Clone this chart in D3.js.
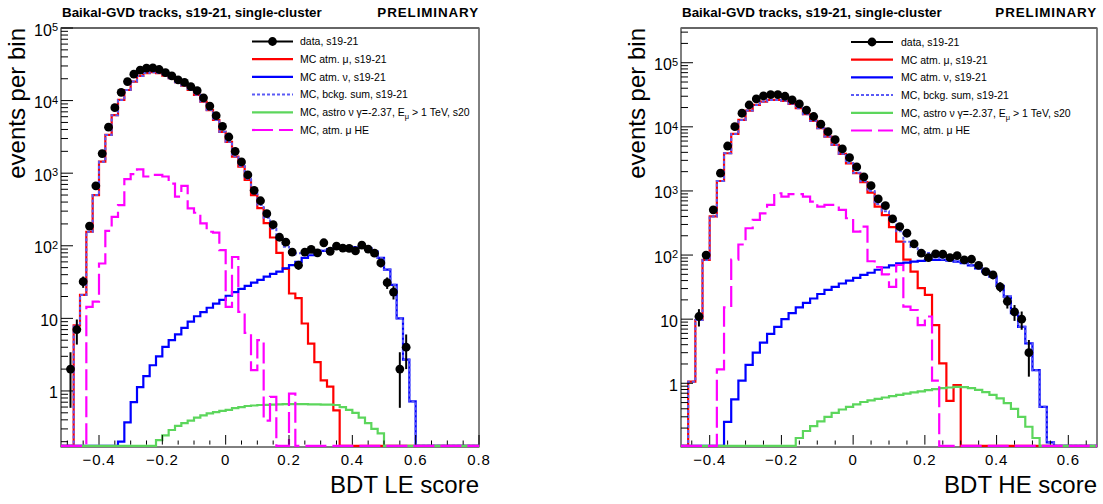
<!DOCTYPE html>
<html><head><meta charset="utf-8">
<script src="https://cdn.jsdelivr.net/npm/d3@7"></script>
<style>
body{margin:0;background:#fff}
svg{display:block}
text{font-family:"Liberation Sans",Arial,Helvetica,sans-serif;fill:#000}
</style>
</head><body>
<svg id="c" width="1103" height="504"></svg>
<script>
// ---------------- LE panel (66 bins of 0.02 from -0.52) ----------------
const leBinStart = -0.52, leBinWidth = 0.02;
const dataLE = [0,2,7,32,187,670,1860,4300,8000,13000,
 18300,23100,26300,28000,28200,26800,24300,21900,19300,17800,
 15600,13700,10900,8400,6200,4400,3150,2000,1430,945,
 580,417,277,195,131,112,82,54,82,89,
 80,110,84,99,93,92,85,102,90,79,
 58,31,23,2,4,0,0,0,0,0,
 0,0,0,0,0,0];
const muLE = [0,0,8,21,156,500,1440,3360,6300,10200,
 14000,18300,21900,23900,24600,23900,22100,20300,17900,16100,
 14000,12000,9700,7400,5400,3700,2700,1690,1230,810,
 500,330,205,130,80,48,22,19,8.5,4.5,
 2.5,1.4,1.15,0.54,0,0,0,0,0,0,
 0,0,0,0,0,0,0,0,0,0,
 0,0,0,0,0,0];
const nuLE = [0,0,0,0,0,0,0,0,0,0.2,
 0.37,0.70,1.13,1.6,2.26,3.0,4.05,5.0,6.0,7.4,
 9.0,10.7,12.2,14,16,18,20.5,23,25.5,28,
 31,34,37.5,41,44,49,54,60,68,74,
 80,85,90,93,95,96,96,95,92,83,
 68,47,29,10,2.7,0.72,0,0,0,0,
 0,0,0,0,0,0];
const sumLE = [0,0,8,21,156,500,1440,3360,6300,10200,
 14000,18300,21900,23900,24600,23900,22100,20300,17910,16110,
 14010,12010,9710,7410,5420,3720,2720,1710,1260,838,
 531,364,243,171,124,97,76,79,76.5,78.5,
 82.5,86.4,91.2,93.5,95,96,96,95,92,83,
 68,47,29,10,2.7,0.72,0,0,0,0,
 0,0,0,0,0,0];
const astroLE = [0,0,0,0,0,0,0,0,0,0,
 0,0,0,0,0,0.21,0.245,0.29,0.33,0.36,
 0.39,0.43,0.46,0.49,0.51,0.53,0.55,0.58,0.60,0.62,
 0.63,0.64,0.645,0.65,0.655,0.66,0.66,0.66,0.66,0.655,
 0.655,0.65,0.65,0.64,0.60,0.55,0.50,0.43,0.36,0.30,
 0.26,0,0,0,0,0,0,0,0,0,
 0,0,0,0,0,0];
const muHiLE = [0,0,0,0,14.4,17,57,160,250,362,
 830,970,1130,900,945,945,900,720,474,670,
 328,285,204,156,152,87,14.4,70,12.3,6.3,
 1.93,5.0,0.39,0.83,0,0,0.92,0,0,0,
 0,0,0,0,0,0,0,0,0,0,
 0,0,0,0,0,0,0,0,0,0,
 0,0,0,0,0,0];
const xTicksLE = [-0.4,-0.2,0,0.2,0.4,0.6,0.8];

// ---------------- HE panel (58 bins of 0.02 from -0.48) ----------------
const heBinStart = -0.48, heBinWidth = 0.02;
const dataHE = [0,0,11,100,507,1890,5020,10060,16300,21900,
 27200,30300,31900,31900,30000,26300,22800,18200,14500,11000,
 8400,6300,4520,3300,2370,1660,1210,750,590,368,
 278,219,149,107,91,104,103,91,98,84,
 86,69,55,49,32,19,13,10,3,0,
 0,0,0,0,0,0,0,0];
const muHE = [0,1.06,9.7,84,400,1430,3870,7750,12800,17900,
 22000,24800,26300,26300,25400,22800,19500,15700,12400,9500,
 7040,5220,3780,2700,1890,1370,942,569,420,272,
 162,85,55,30.5,23.9,8.1,2.05,0.53,0.94,0,
 0,0,0,0,0,0,0,0,0,0,
 0,0,0,0,0,0,0,0];
const nuHE = [0,0,0,0,0,0,0.25,0.56,1.1,1.93,
 3.0,4.3,5.9,7.6,10,12.4,15.3,18,21,24.7,
 28.6,32,36,40,44,49,53,59,64,69,
 74,76,79,81,84,84,84,82,79,75,
 69,62,55,46,33,22.5,12.4,7.6,4.2,1.6,
 0.43,0.12,0,0,0,0,0,0];
const sumHE = [0,1.06,9.7,84,400,1430,3870,7750,12800,17900,
 22000,24800,26300,26300,25410,22810,19520,15720,12420,9525,
 7070,5250,3820,2740,1930,1420,995,628,484,341,
 236,161,134,111.5,107.9,92.1,86.05,82.53,79.94,75,
 69,62,55,46,33,22.5,12.4,7.6,4.2,1.6,
 0.43,0.12,0,0,0,0,0,0];
const astroHE = [0,0,0,0,0,0,0,0,0,0,
 0,0,0,0,0,0,0.14,0.18,0.215,0.255,
 0.30,0.345,0.39,0.43,0.47,0.51,0.54,0.57,0.60,0.63,
 0.66,0.69,0.72,0.75,0.78,0.81,0.84,0.86,0.88,0.87,
 0.84,0.79,0.73,0.66,0.58,0.49,0.40,0.30,0.21,0.14,
 0,0,0,0,0,0,0,0];
const muHiHE = [0,0,0,0,0,1.65,15.3,85,146,262,
 353,448,605,920,815,895,895,815,680,570,
 605,605,505,375,232,278,80,65,50,32,
 70,15.7,13.9,8.1,11,1.1,0,0,0,0,
 0,0,0,0,0,0,0,0,0,0,
 0,0,0,0,0,0,0,0];
const xTicksHE = [-0.4,-0.2,0,0.2,0.4,0.6];

// ---------------- shared texts ----------------
const yTickExponents = [0,1,2,3,4,5];
const titleText = "Baikal-GVD tracks, s19-21, single-cluster";
const prelimText = "PRELIMINARY";
const yTitleText = "events per bin";
const legendLabels = ["data, s19-21","MC atm. \u03bc, s19-21","MC atm. \u03bd, s19-21",
  "MC, bckg. sum, s19-21","MC, astro \u03bd \u03b3=-2.37, E|\u03bc| > 1 TeV, s20","MC, atm. \u03bc HE"];

const styles = {
  mu:   {stroke:"#ff0000", width:2.2, dash:null},
  nu:   {stroke:"#0000ff", width:2.2, dash:null},
  sum:  {stroke:"#5a5af5", width:2, dash:"3,2"},
  astro:{stroke:"#5cd65c", width:2.2, dash:null},
  muHi: {stroke:"#ff00ff", width:2.2, dash:"21,6"}
};

const panels = [
  {frame:{x0:61,x1:479,y0:28,y1:447}, xDomain:[-0.52,0.8], yDomain:[0.169,1e5],
   binStart:leBinStart, binWidth:leBinWidth, xTicks:xTicksLE, xTitle:"BDT LE score",
   series:{mu:muLE,nu:nuLE,sum:sumLE,astro:astroLE,muHi:muHiLE}, data:dataLE,
   legend:{lx0:252,lx1:293,tx:300,y0:41.5,dy:17.7}, yTitleX:25},
  {frame:{x0:681,x1:1097,y0:28,y1:447}, xDomain:[-0.48,0.68], yDomain:[0.1014,3.48e5],
   binStart:heBinStart, binWidth:heBinWidth, xTicks:xTicksHE, xTitle:"BDT HE score",
   series:{mu:muHE,nu:nuHE,sum:sumHE,astro:astroHE,muHi:muHiHE}, data:dataHE,
   legend:{lx0:851,lx1:893,tx:901,y0:42,dy:17.7}, yTitleX:645}
];

const svg = d3.select("#c");
svg.append("rect").attr("width",1103).attr("height",504).attr("fill","#fff");

panels.forEach((p,pi)=>{
  const f = p.frame;
  const x = d3.scaleLinear().domain(p.xDomain).range([f.x0,f.x1]);
  const y = d3.scaleLog().domain(p.yDomain).range([f.y1,f.y0]);
  const g = svg.append("g");

  // frame first, so histogram lines lying on the bottom edge show over it
  g.append("rect").attr("x",f.x0).attr("y",f.y0).attr("width",f.x1-f.x0).attr("height",f.y1-f.y0)
    .attr("fill","none").attr("stroke","#000").attr("stroke-width",1);
  g.append("line").attr("x1",f.x0).attr("x2",f.x1).attr("y1",f.y0).attr("y2",f.y0)
    .attr("stroke","#666").attr("stroke-width",2);

  const ymin = p.yDomain[0];
  const yBottom = f.y1 - 1.2;
  const yPix = v => v > ymin ? Math.min(y(v), yBottom) : yBottom;
  const line = d3.line();

  function stepPath(vals){
    const pts = [];
    vals.forEach((v,i)=>{
      const a = x(p.binStart + i*p.binWidth), b = x(p.binStart + (i+1)*p.binWidth);
      const yy = yPix(v);
      if(pts.length && pts[pts.length-1][1]===yy) pts[pts.length-1][0] = b;
      else pts.push([a,yy],[b,yy]);
    });
    return line(pts);
  }

  const hg = g.append("g");
  ["mu","nu","sum","astro","muHi"].forEach(k=>{
    const s = styles[k];
    hg.append("path").attr("d",stepPath(p.series[k]))
      .attr("fill","none").attr("stroke",s.stroke).attr("stroke-width",s.width)
      .attr("stroke-dasharray",s.dash).attr("stroke-linejoin","miter").attr("stroke-linecap","butt");
  });

  // data points with Poisson error bars
  const pts = p.data.map((n,i)=>({n, xc:x(p.binStart+(i+0.5)*p.binWidth)})).filter(d=>d.n>0);
  hg.selectAll(".eb").data(pts).enter().append("line")
    .attr("x1",d=>d.xc).attr("x2",d=>d.xc)
    .attr("y1",d=>yPix(d.n+Math.sqrt(d.n))).attr("y2",d=>yPix(d.n-Math.sqrt(d.n)))
    .attr("stroke","#000").attr("stroke-width",2);
  hg.selectAll(".mk").data(pts).enter().append("circle")
    .attr("cx",d=>d.xc).attr("cy",d=>y(d.n)).attr("r",4.4).attr("fill","#000");

  // x ticks
  const kmin = Math.ceil(p.xDomain[0]/0.05-1e-9), kmax = Math.floor(p.xDomain[1]/0.05+1e-9);
  d3.range(kmin,kmax+1).forEach(k=>{
    const v = k*0.05, major = Math.abs(Math.round(v/0.2)*0.2 - v) < 1e-9;
    g.append("line").attr("x1",x(v)).attr("x2",x(v)).attr("y1",f.y1-2.4).attr("y2",f.y1-(major?12:6.5))
      .attr("stroke","#000").attr("stroke-width",1);
  });
  p.xTicks.forEach(v=>{
    const lbl = v===0 ? "0" : (v<0 ? "\u2212"+d3.format(".1f")(-v) : d3.format(".1f")(v));
    g.append("text").attr("x",x(v)).attr("y",465).attr("text-anchor","middle")
      .attr("font-size",15).attr("letter-spacing",0.8).text(lbl);
  });

  // y ticks
  const e0 = Math.floor(Math.log10(p.yDomain[0])), e1 = Math.ceil(Math.log10(p.yDomain[1]));
  for(let e=e0;e<=e1;e++){
    for(let m=1;m<=9;m++){
      const v = m*Math.pow(10,e);
      if(v < p.yDomain[0]*1.0001 || v > p.yDomain[1]*1.0001) continue;
      g.append("line").attr("x1",f.x0).attr("x2",f.x0+(m===1?12:7)).attr("y1",y(v)).attr("y2",y(v))
        .attr("stroke","#000").attr("stroke-width",1);
    }
  }
  yTickExponents.forEach(e=>{
    const t = g.append("text").attr("x",f.x0-3).attr("y",y(Math.pow(10,e))+7.5)
      .attr("text-anchor","end").attr("font-size",16);
    if(e===0) t.text("1");
    else if(e===1) t.text("10");
    else { t.append("tspan").text("10"); t.append("tspan").attr("dy",-4.5).attr("font-size",11).text(e); }
  });

  // titles
  g.append("text").attr("x",f.x1).attr("y",493).attr("text-anchor","end").attr("font-size",24).text(p.xTitle);
  g.append("text").attr("transform",`translate(${p.yTitleX},${f.y0}) rotate(-90)`)
    .attr("text-anchor","end").attr("font-size",24).text(yTitleText);
  g.append("text").attr("x",f.x0+1).attr("y",17).attr("font-size",13.4).attr("font-weight","bold").text(titleText);
  g.append("text").attr("x",f.x1).attr("y",17).attr("text-anchor","end").attr("font-size",13.4)
    .attr("letter-spacing",0.9).attr("font-weight","bold").text(prelimText);

  // legend
  const L = p.legend;
  const keys = ["data","mu","nu","sum","astro","muHi"];
  keys.forEach((k,i)=>{
    const yy = L.y0 + i*L.dy;
    if(k==="data"){
      g.append("line").attr("x1",L.lx0).attr("x2",L.lx1).attr("y1",yy).attr("y2",yy).attr("stroke","#000").attr("stroke-width",2);
      g.append("circle").attr("cx",(L.lx0+L.lx1)/2).attr("cy",yy).attr("r",4.4).attr("fill","#000");
    } else {
      const s = styles[k];
      g.append("line").attr("x1",L.lx0).attr("x2",L.lx1).attr("y1",yy).attr("y2",yy)
        .attr("stroke",s.stroke).attr("stroke-width",s.width).attr("stroke-dasharray",s.dash);
    }
    const t = g.append("text").attr("x",L.tx).attr("y",yy+3.8).attr("font-size",10.5);
    const parts = legendLabels[i].split("|");
    t.append("tspan").text(parts[0]);
    if(parts.length>1){
      t.append("tspan").attr("dy",3).attr("font-size",7.5).text(parts[1]);
      t.append("tspan").attr("dy",-3).text(parts[2]);
    }
  });
});
</script>
</body></html>
